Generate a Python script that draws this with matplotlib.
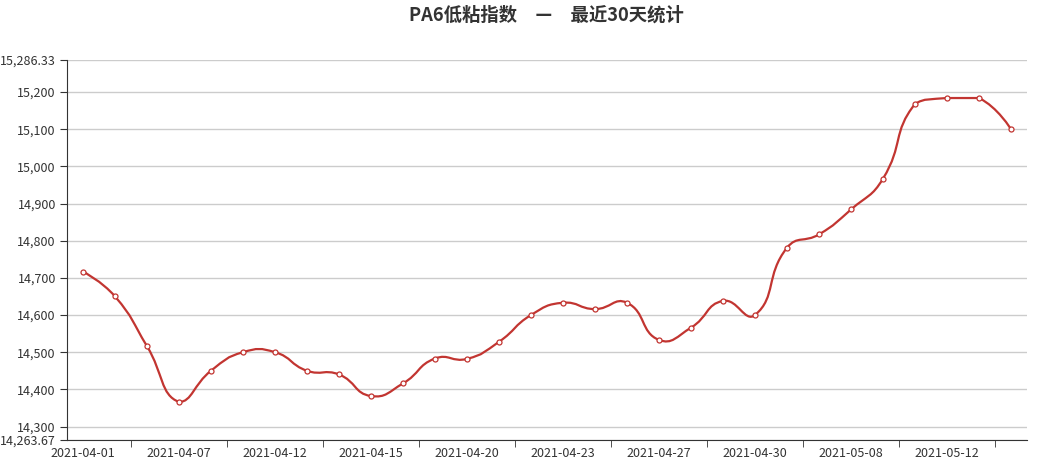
import numpy as np
import matplotlib
matplotlib.use("Agg")
from matplotlib import pyplot as plt
from matplotlib.path import Path
from matplotlib.patches import PathPatch

plt.rcParams['font.family'] = ['Noto Sans CJK SC', 'DejaVu Sans']

# data
dates = ["2021-04-01", "2021-04-02", "2021-04-06", "2021-04-07", "2021-04-08",
         "2021-04-09", "2021-04-12", "2021-04-13", "2021-04-14", "2021-04-15",
         "2021-04-16", "2021-04-19", "2021-04-20", "2021-04-21", "2021-04-22",
         "2021-04-23", "2021-04-25", "2021-04-26", "2021-04-27", "2021-04-28",
         "2021-04-29", "2021-04-30", "2021-05-06", "2021-05-07", "2021-05-08",
         "2021-05-10", "2021-05-11", "2021-05-12", "2021-05-13", "2021-05-14"]
prices = [14717, 14650, 14516, 14366, 14450, 14500, 14500, 14450, 14440, 14382,
          14416, 14483, 14482, 14528, 14600, 14633, 14616, 14633, 14533, 14566,
          14638, 14600, 14781, 14817, 14884, 14967, 15168, 15184, 15184, 15100]
y_min = 14263.67
y_max = 15286.33
y_ticks = [14300, 14400, 14500, 14600, 14700, 14800, 14900, 15000, 15100, 15200]

color = "#c23531"

fig = plt.figure(figsize=(10.38, 4.70), dpi=100)
ax = fig.add_axes([67/1038, 30/470, 960/1038, 380/470])

x = np.arange(len(prices))
ax.set_xlim(-0.5, len(prices) - 0.5)
ax.set_ylim(y_min, y_max)

# smooth line (echarts style bezier), control points computed in pixel-like space
sx, sy = 32.0, 0.371
px = x * sx
py = np.array(prices) * sy
lo, hi = py.min(), py.max()
smooth = 0.5
verts = [(px[0], py[0])]
codes = [Path.MOVETO]
n = len(px)
cps = []
for i in range(n):
    if i == 0 or i == n - 1:
        cps.append(((px[i], py[i]), (px[i], py[i])))
        continue
    dx = px[i+1] - px[i-1]
    dy = py[i+1] - py[i-1]
    d0 = np.hypot(px[i] - px[i-1], py[i] - py[i-1])
    d1 = np.hypot(px[i+1] - px[i], py[i+1] - py[i])
    r = d0 / (d0 + d1)
    c_in = (px[i] - dx * smooth * r, np.clip(py[i] - dy * smooth * r, lo, hi))
    c_out = (px[i] + dx * smooth * (1 - r), np.clip(py[i] + dy * smooth * (1 - r), lo, hi))
    cps.append((c_in, c_out))
for i in range(1, n):
    verts += [cps[i-1][1], cps[i][0], (px[i], py[i])]
    codes += [Path.CURVE4] * 3
verts = [(a / sx, b / sy) for a, b in verts]
ax.add_patch(PathPatch(Path(verts, codes), facecolor="none", edgecolor=color, lw=1.6, zorder=3))
ax.plot(x, prices, linestyle="none", marker="o", markersize=3.6, markerfacecolor="white",
        markeredgecolor=color, markeredgewidth=0.9, zorder=4)

# axes styling
ax.set_yticks([y_min] + y_ticks + [y_max])
ax.set_yticklabels(["{:,.2f}".format(y_min)] + ["{:,}".format(v) for v in y_ticks] + ["{:,.2f}".format(y_max)])
ax.grid(axis="y", color="#cccccc", lw=1)
ax.set_axisbelow(True)
ax.set_xticks(x[::3])
ax.set_xticklabels(dates[::3])
ax.set_xticks(np.arange(1.5, len(prices), 3), minor=True)
ax.tick_params(axis="x", which="major", length=0, pad=5, labelsize=9, labelcolor="#333333")
ax.tick_params(axis="x", which="minor", length=5, color="#333333")
ax.tick_params(axis="y", length=5, color="#333333", labelsize=9, labelcolor="#333333", pad=3)
for s in ["top", "right"]:
    ax.spines[s].set_visible(False)
ax.spines["left"].set_color("#333333")
ax.spines["bottom"].set_color("#333333")

fig.text(546/1038, 1 - 15/470, "PA6低粘指数　—　最近30天统计", ha="center", va="center",
         fontsize=13.2, fontweight="bold", color="#333333")

fig.savefig("out.png", dpi=100)
